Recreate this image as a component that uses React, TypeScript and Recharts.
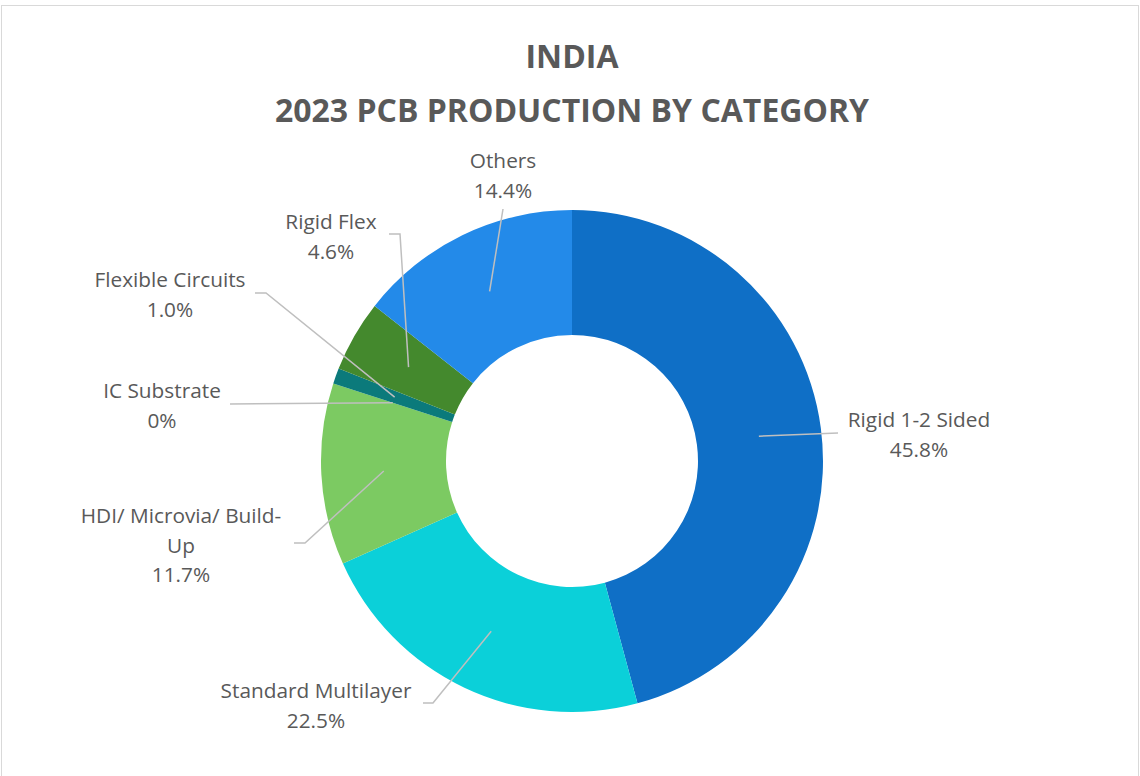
import { PieChart, Pie, Cell } from 'recharts';

const CATEGORIES = [
  'Rigid 1-2 Sided',
  'Standard Multilayer',
  'HDI/ Microvia/ Build-Up',
  'IC Substrate',
  'Flexible Circuits',
  'Rigid Flex',
  'Others',
];
const SHARES = [45.8, 22.5, 11.7, 0, 1.0, 4.6, 14.4];
const SHARE_LABELS = ['45.8%', '22.5%', '11.7%', '0%', '1.0%', '4.6%', '14.4%'];
// text lines for each label (the HDI name wraps in the original)
const NAME_LINES = [
  ['Rigid 1-2 Sided'],
  ['Standard Multilayer'],
  ['HDI/ Microvia/ Build-', 'Up'],
  ['IC Substrate'],
  ['Flexible Circuits'],
  ['Rigid Flex'],
  ['Others'],
];

const COLORS = ['#0F6FC6', '#0BD0D9', '#7CCA62', '#10CF9B', '#0B7A7B', '#44892D', '#238AE9'];

// label placement, relative to the pie centre: elbow of leader, end of leader, text centre
const LABEL_LAYOUT = [
  { elbow: [266, -28], end: [266, -28], text: [347, -42] },
  { elbow: [-139, 242], end: [-149, 242], text: [-256, 229] },
  { elbow: [-267, 82], end: [-278, 82], text: [-391, 54] },
  { elbow: [-342, -57], end: [-342, -57], text: [-410, -71] },
  { elbow: [-306, -168], end: [-317, -168], text: [-402, -182] },
  { elbow: [-172, -227], end: [-183, -227], text: [-241, -240] },
  { elbow: [-69, -252], end: [-69, -252], text: [-69, -301] },
];

const data = CATEGORIES.map((name, i) => ({ name, value: SHARES[i] }));

const RAD = Math.PI / 180;
const FONT = '"Open Sans", "Noto Sans", sans-serif';

function renderLabel(props: any) {
  const { cx, cy, midAngle, innerRadius, outerRadius, index } = props;
  const r = (innerRadius + outerRadius) / 2;
  const sx = cx + r * Math.cos(-midAngle * RAD);
  const sy = cy + r * Math.sin(-midAngle * RAD);
  const lay = LABEL_LAYOUT[index];
  const lines = [...NAME_LINES[index], SHARE_LABELS[index]];
  const tx = cx + lay.text[0];
  const ty = cy + lay.text[1];
  return (
    <g key={`lbl-${index}`}>
      <polyline
        points={`${sx},${sy} ${cx + lay.elbow[0]},${cy + lay.elbow[1]} ${cx + lay.end[0]},${cy + lay.end[1]}`}
        fill="none"
        stroke="#BFBFBF"
        strokeWidth={1.5}
      />
      {lines.map((ln, j) => (
        <text
          key={j}
          x={tx}
          y={ty + j * 29.5}
          textAnchor="middle"
          dominantBaseline="central"
          fill="#595959"
          fontSize={20.8}
          fontFamily={FONT}
        >
          {ln}
        </text>
      ))}
    </g>
  );
}

export default function App() {
  return (
    <div style={{ position: 'absolute', left: 0, top: 0, width: 1140, height: 776, background: '#fff', overflow: 'hidden' }}>
      <div
        style={{
          position: 'absolute',
          left: 1,
          top: 5,
          width: 1136,
          height: 800,
          border: '1px solid #D9D9D9',
        }}
      />
      <div
        style={{
          position: 'absolute',
          left: 0,
          width: 1144,
          top: 29,
          textAlign: 'center',
          fontFamily: FONT,
          fontWeight: 700,
          fontSize: 32,
          color: '#595959',
          lineHeight: '54px',
        }}
      >
        <div>INDIA</div>
        <div>2023 PCB PRODUCTION BY CATEGORY</div>
      </div>
      <div style={{ position: 'absolute', left: 0, top: 0 }}>
        <PieChart width={1140} height={776} margin={{ top: 0, right: 0, bottom: 0, left: 0 }}>
          <Pie
            data={data}
            dataKey="value"
            nameKey="name"
            cx={572}
            cy={461}
            innerRadius={126}
            outerRadius={251}
            startAngle={90}
            endAngle={-270}
            stroke="none"
            labelLine={false}
            label={renderLabel}
            isAnimationActive={false}
          >
            {data.map((d, i) => (
              <Cell key={`cell-${i}`} fill={COLORS[i]} />
            ))}
          </Pie>
        </PieChart>
      </div>
    </div>
  );
}
